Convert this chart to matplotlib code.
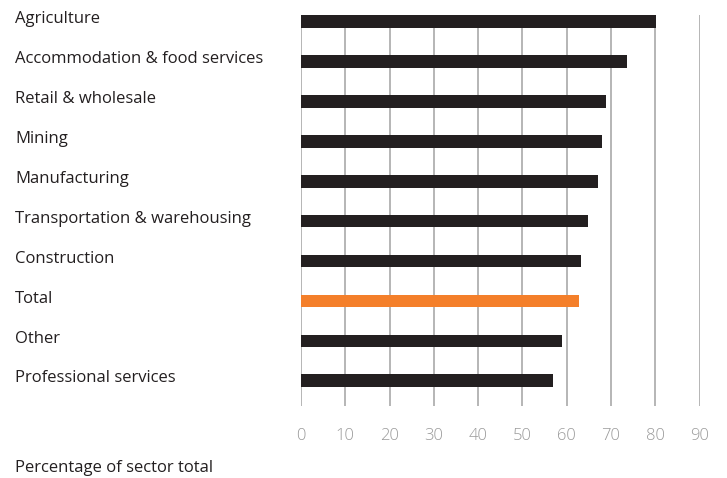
import numpy as np
import matplotlib.pyplot as plt
from matplotlib.transforms import blended_transform_factory

# dati
sectors = ['Agriculture', 'Accommodation & food services', 'Retail & wholesale',
           'Mining', 'Manufacturing', 'Transportation & warehousing',
           'Construction', 'Total', 'Other', 'Professional services']
values = [80.1, 73.6, 68.8, 67.9, 67.0, 64.8, 63.2, 62.8, 58.9, 56.9]
ticks = [0, 10, 20, 30, 40, 50, 60, 70, 80, 90]

plt.rcParams['font.family'] = ['Open Sans', 'DejaVu Sans']

fig = plt.figure(figsize=(7.27, 4.78), dpi=100)
W, H = 727, 478
ax = fig.add_axes([301 / W, 1 - 406 / H, (699.5 - 301) / W, (406 - 15) / H])

y = np.arange(len(sectors))
colors = ['#f47f2a' if s == 'Total' else '#231f20' for s in sectors]
ax.barh(y, values, height=0.32, color=colors, zorder=3)

ax.set_xlim(0, 90)
ax.set_ylim(9.63, -0.16)
ax.set_xticks(ticks)
ax.set_yticks([])
ax.grid(axis='x', color='#b0b0b0', linewidth=1.3, zorder=0)
for s in ax.spines.values():
    s.set_visible(False)
ax.tick_params(axis='x', length=0, pad=16, labelsize=12, labelcolor='#9a9a9a')
for t in ax.get_xticklabels():
    t.set_fontweight('light')

# etichette dei settori a sinistra
tr = blended_transform_factory(fig.transFigure, ax.transData)
for i, s in enumerate(sectors):
    ax.text(15 / W, i - 0.06, s, transform=tr, fontsize=12, color='#231f20',
            ha='left', va='center')

fig.text(15 / W, 1 - 468 / H, 'Percentage of sector total', fontsize=12,
         color='#231f20', ha='left', va='center')

fig.savefig('out.png', dpi=100)
